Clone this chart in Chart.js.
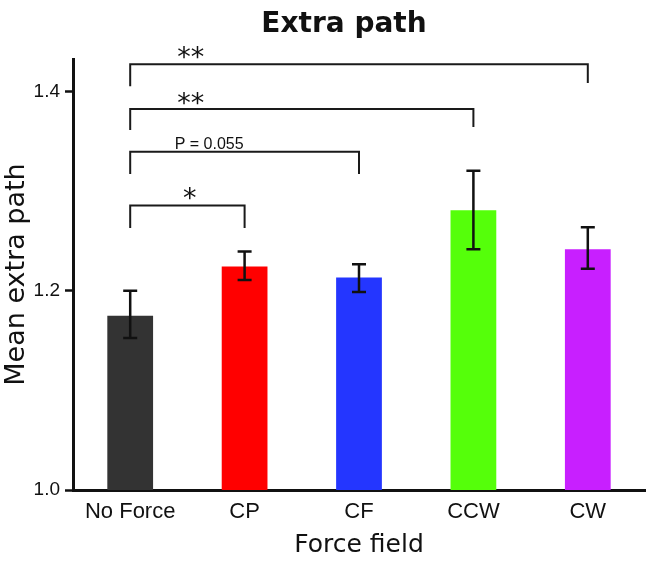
<!DOCTYPE html>
<html>
<head>
<meta charset="utf-8">
<script src="https://cdn.jsdelivr.net/npm/chart.js@4"></script>
<style>
  html, body { margin: 0; padding: 0; background: #fff; }
</style>
</head>
<body>
<canvas id="barChart" width="653" height="561"></canvas>
<script>
const forceFields = ['No Force', 'CP', 'CF', 'CCW', 'CW'];
const meanExtraPath = [1.175, 1.2245, 1.2134, 1.281, 1.2419];
const errLow = [1.1527, 1.2111, 1.1988, 1.2419, 1.2222];
const errHigh = [1.2001, 1.2395, 1.2269, 1.3208, 1.264];
const barColors = ['#333333', '#ff0000', '#2436ff', '#55ff0a', '#c81fff'];
const yTicks = [1.0, 1.2, 1.4];

// significance brackets (category index / y value)
const bracketFrom = [0, 0, 0, 0];
const bracketTo = [4, 3, 2, 1];
const bracketTop = [1.4278, 1.3827, 1.3398, 1.2859];
const bracketLegFrom = [1.4057, 1.3616, 1.3175, 1.2633];
const bracketLegTo = [1.409, 1.3646, 1.3175, 1.2633];
const bracketText = ['**', '**', 'P = 0.055', '*'];
const bracketTextX = [0.53, 0.53, 0.69, 0.52];
const bracketTextY = [1.4398, 1.3937, 1.3485, 1.2974];

const ink = '#111111';

function centerText (ctx, text, x, cy) {
    const m = ctx.measureText(text);
    const y = cy + (m.actualBoundingBoxAscent - m.actualBoundingBoxDescent) / 2;
    ctx.fillText(text, x, y);
}

const chartTitle = {
    id: 'chartTitle',
    afterDraw (chart) {
        const ctx = chart.ctx;
        ctx.save();
        ctx.fillStyle = ink;
        ctx.font = 'bold 28px "DejaVu Sans"';
        ctx.textAlign = 'center';
        ctx.textBaseline = 'alphabetic';
        ctx.fillText('Extra path', 344, 32);
        ctx.restore();
    }
};

const errorBars = {
    id: 'errorBars',
    afterDatasetsDraw (chart) {
        const ctx = chart.ctx;
        const xs = chart.scales.x;
        const ys = chart.scales.y;
        ctx.save();
        ctx.strokeStyle = ink;
        ctx.lineWidth = 2.5;
        for (let i = 0; i < meanExtraPath.length; i++) {
            const x = xs.getPixelForValue(i);
            const lo = ys.getPixelForValue(errLow[i]);
            const hi = ys.getPixelForValue(errHigh[i]);
            ctx.beginPath();
            ctx.moveTo(x, lo);
            ctx.lineTo(x, hi);
            ctx.moveTo(x - 7, hi);
            ctx.lineTo(x + 7, hi);
            ctx.moveTo(x - 7, lo);
            ctx.lineTo(x + 7, lo);
            ctx.stroke();
        }
        ctx.restore();
    }
};

const brackets = {
    id: 'brackets',
    afterDraw (chart) {
        const ctx = chart.ctx;
        const xs = chart.scales.x;
        const ys = chart.scales.y;
        ctx.save();
        ctx.strokeStyle = '#1a1a1a';
        ctx.fillStyle = ink;
        ctx.lineWidth = 2;
        ctx.textAlign = 'center';
        ctx.textBaseline = 'alphabetic';
        for (let k = 0; k < bracketText.length; k++) {
            const x1 = xs.getPixelForValue(bracketFrom[k]);
            const x2 = xs.getPixelForValue(bracketTo[k]);
            ctx.beginPath();
            ctx.moveTo(x1, ys.getPixelForValue(bracketLegFrom[k]));
            ctx.lineTo(x1, ys.getPixelForValue(bracketTop[k]));
            ctx.lineTo(x2, ys.getPixelForValue(bracketTop[k]));
            ctx.lineTo(x2, ys.getPixelForValue(bracketLegTo[k]));
            ctx.stroke();

            const star = bracketText[k].indexOf('*') >= 0;
            ctx.font = star ? '27px "DejaVu Sans"' : '16px "Liberation Sans"';
            centerText(ctx, bracketText[k], xs.getPixelForValue(bracketTextX[k]), ys.getPixelForValue(bracketTextY[k]));
        }
        ctx.restore();
    }
};

const chart = new Chart(document.getElementById('barChart'), {
    type: 'bar',
    data: {
        labels: forceFields,
        datasets: [{
            label: 'Mean extra path',
            data: meanExtraPath,
            backgroundColor: barColors,
            borderWidth: 0,
            barPercentage: 0.4,
            categoryPercentage: 1.0
        }]
    },
    options: {
        responsive: false,
        animation: false,
        devicePixelRatio: 1,
        layout: { padding: { top: 59, right: 8, left: 0, bottom: 0 } },
        plugins: {
            legend: { display: false },
            title: { display: false },
            tooltip: { enabled: false }
        },
        scales: {
            x: {
                grid: { display: false, drawTicks: false },
                border: { color: ink, width: 3 },
                ticks: {
                    color: ink,
                    padding: 9,
                    font: { family: 'Liberation Sans', size: 22 }
                },
                title: {
                    display: true,
                    text: 'Force field',
                    color: ink,
                    font: { family: 'DejaVu Sans', size: 25 },
                    padding: { top: 0, bottom: 1 }
                },
                afterFit (scale) { scale.height = 71; }
            },
            y: {
                min: 1.0,
                max: 1.433,
                afterBuildTicks (scale) {
                    scale.ticks = yTicks.map(v => ({ value: v }));
                },
                grid: {
                    drawOnChartArea: false,
                    drawTicks: true,
                    tickLength: 8,
                    tickColor: ink,
                    tickWidth: 2.5
                },
                border: { color: ink, width: 3 },
                ticks: {
                    color: ink,
                    padding: 5,
                    font: { family: 'Liberation Sans', size: 19 },
                    callback: v => Number(v).toFixed(1)
                },
                title: {
                    display: true,
                    text: 'Mean extra path',
                    color: ink,
                    font: { family: 'DejaVu Sans', size: 27 },
                    padding: { top: 1, bottom: 0 }
                },
                afterFit (scale) { scale.width = 73; }
            }
        }
    },
    plugins: [errorBars, brackets, chartTitle]
});
</script>
</body>
</html>
